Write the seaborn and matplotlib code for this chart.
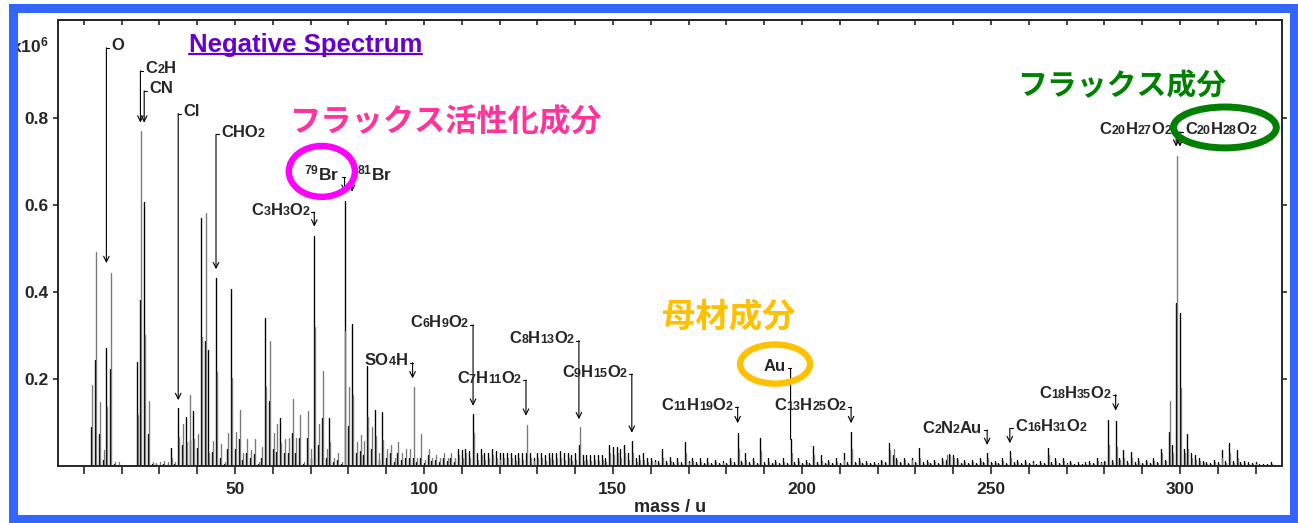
import re
import numpy as np
import pandas as pd
import matplotlib
matplotlib.use("Agg")
import matplotlib.pyplot as plt
import seaborn as sns
from matplotlib.patches import Ellipse, Rectangle
from matplotlib.offsetbox import TextArea, HPacker, AnnotationBbox
from matplotlib.lines import Line2D

sns.set_style("ticks")
plt.rcParams["font.family"] = ["Liberation Sans", "DejaVu Sans"]
plt.rcParams["font.weight"] = "bold"
plt.rcParams["axes.labelweight"] = "bold"
plt.rcParams["mathtext.fontset"] = "custom"
plt.rcParams["mathtext.rm"] = "Liberation Sans:bold"
plt.rcParams["mathtext.bf"] = "Liberation Sans:bold"
plt.rcParams["mathtext.it"] = "Liberation Sans:bold"

# ---- negative-ion spectrum, intensities in units of 1e6 counts, m/z 12..326 ----
masses = np.arange(12, 327)

black_intensity = [
    .090, .244, .074, .015, .273, .223, .005, .004, 0, 0,            # 12-21
    0, .002, .240, .382, .608, .075, .005, .006, .004, .006,         # 22-31
    .004, .042, .005, .133, .048, .113, .060, .127, .043, .570,      # 32-41
    .288, .267, .033, .434, .020, .006, .040, .407, .040, .062,      # 42-51
    .015, .030, .020, .028, .005, .020, .342, .150, .040, .034,      # 52-61
    .112, .030, .030, .076, .030, .065, .005, .064, .020, .529,      # 62-71
    .050, .110, .020, .111, .010, .015, .005, .610, .093, .327,      # 72-81
    .030, .035, .025, .231, .040, .129, .015, .124, .020, .030,      # 82-91
    .010, .030, .015, .020, .020, .020, .010, .020, .008, .025,      # 92-101
    .012, .015, .010, .018, .012, .020, .010, .040, .038, .040,      # 102-111
    .035, .120, .030, .040, .030, .030, .040, .035, .030, .030,      # 112-121
    .030, .030, .025, .030, .030, .030, .030, .020, .030, .030,      # 122-131
    .025, .030, .030, .030, .035, .030, .030, .025, .030, .050,      # 132-141
    .025, .025, .025, .025, .025, .025, .020, .050, .045, .045,      # 142-151
    .040, .050, .030, .059, .020, .025, .030, .020, .020, .015,      # 152-161
    .012, .040, .012, .022, .010, .018, .010, .057, .012, .020,      # 162-171
    .010, .018, .008, .018, .008, .015, .008, .012, .008, .020,      # 172-181
    .010, .077, .012, .030, .010, .020, .008, .066, .010, .020,      # 182-191
    .008, .015, .008, .018, .008, .062, .010, .020, .008, .015,      # 192-201
    .008, .046, .010, .025, .008, .015, .008, .020, .008, .030,      # 202-211
    .010, .080, .010, .020, .008, .012, .008, .010, .008, .014,      # 212-221
    .010, .054, .025, .020, .010, .020, .008, .018, .010, .041,      # 222-231
    .010, .015, .008, .014, .008, .018, .015, .028, .025, .020,      # 232-241
    .008, .015, .008, .015, .008, .020, .010, .030, .010, .012,      # 242-251
    .008, .018, .008, .035, .010, .015, .008, .014, .008, .012,      # 252-261
    .006, .012, .008, .042, .010, .020, .008, .020, .008, .012,      # 262-271
    .006, .010, .006, .010, .012, .008, .020, .010, .012, .106,      # 272-281
    .015, .103, .020, .037, .012, .033, .010, .018, .008, .014,      # 282-291
    .008, .020, .010, .040, .015, .078, .050, .375, .352, .040,      # 292-301
    .075, .030, .025, .020, .012, .010, .008, .014, .010, .038,      # 302-311
    .012, .054, .012, .038, .010, .012, .010, .008, .010, .006,      # 312-321
    .006, .006, .010, .004, .003,                                    # 322-326
]

gray_intensity = [
    .187, .492, .147, .037, .137, .444, .010, .010, 0, 0,            # 12-21
    .003, .004, .118, .771, .302, .151, .010, .008, .010, .012,      # 22-31
    .010, .020, .010, .067, .098, .056, .164, .063, .075, .297,      # 32-41
    .582, .030, .058, .217, .052, .010, .076, .204, .078, .130,      # 42-51
    .030, .063, .038, .062, .010, .045, .183, .288, .077, .098,      # 52-61
    .053, .062, .065, .154, .065, .119, .010, .127, .040, .320,      # 62-71
    .098, .219, .040, .056, .020, .030, .010, .310, .183, .165,      # 72-81
    .055, .072, .058, .114, .090, .070, .030, .060, .040, .050,      # 82-91
    .020, .057, .030, .040, .040, .183, .020, .074, .015, .040,      # 92-101
    .020, .025, .020, .030, .020, .030, .020, .025, .020, .030,      # 102-111
    .020, .077, .015, .025, .015, .020, .025, .020, .015, .020,      # 112-121
    .018, .020, .012, .020, .015, .095, .018, .012, .020, .018,      # 122-131
    .012, .020, .015, .020, .018, .015, .020, .012, .015, .091,      # 132-141
    .012, .015, .012, .015, .012, .015, .010, .030, .025, .030,      # 142-151
    .020, .030, .015, .030, .010, .015, .015, .010, .012, .010,      # 152-161
    .008, .020, .008, .012, .006, .010, .006, .030, .008, .012,      # 162-171
    .006, .010, .005, .010, .005, .010, .005, .008, .005, .012,      # 172-181
    .006, .040, .008, .015, .006, .012, .005, .035, .006, .010,      # 182-191
    .005, .010, .005, .010, .005, .030, .006, .012, .005, .010,      # 192-201
    .005, .025, .006, .012, .005, .010, .005, .010, .005, .015,      # 202-211
    .006, .040, .008, .012, .005, .008, .005, .006, .005, .012,      # 212-221
    .008, .037, .040, .015, .008, .015, .006, .015, .008, .020,      # 222-231
    .006, .010, .005, .010, .006, .012, .025, .025, .020, .015,      # 232-241
    .006, .010, .006, .010, .006, .012, .008, .020, .008, .008,      # 242-251
    .006, .012, .006, .020, .006, .010, .005, .010, .005, .008,      # 252-261
    .004, .008, .005, .025, .006, .012, .005, .012, .005, .008,      # 262-271
    .004, .006, .004, .006, .008, .006, .012, .008, .010, .050,      # 272-281
    .010, .045, .015, .020, .008, .018, .006, .012, .006, .010,      # 282-291
    .006, .012, .008, .030, .012, .149, .030, .713, .180, .030,      # 292-301
    .040, .020, .015, .012, .008, .006, .005, .010, .006, .020,      # 302-311
    .008, .030, .008, .020, .006, .008, .006, .005, .006, .004,      # 312-321
    .004, .004, .005, .003, .002,                                    # 322-326
]

x_ticks = list(range(10, 330, 10))
x_tick_labels = [str(t) if t % 50 == 0 else "" for t in x_ticks]
y_ticks = [0.2, 0.4, 0.6, 0.8]
y_tick_labels = ["0.2", "0.4", "0.6", "0.8"]

# peak assignments: (label, m/z, leader top, arrow tip, side of text)
peak_labels = [
    ("O", 16, 0.962, 0.467, "right"),
    ("C2H", 25, 0.909, 0.790, "right"),
    ("CN", 26, 0.863, 0.790, "right"),
    ("Cl", 35, 0.811, 0.152, "right"),
    ("CHO2", 45, 0.763, 0.453, "right"),
    ("79Br", 79, 0.664, 0.631, "left"),
    ("81Br", 81, 0.664, 0.631, "right"),
    ("C3H3O2", 71, 0.584, 0.551, "left"),
    ("SO4H", 97, 0.238, 0.202, "left"),
    ("C6H9O2", 113, 0.325, 0.139, "left"),
    ("C7H11O2", 127, 0.198, 0.116, "left"),
    ("C8H13O2", 141, 0.289, 0.108, "left"),
    ("C9H15O2", 155, 0.212, 0.077, "left"),
    ("Au", 197, 0.225, None, "left"),
    ("C11H19O2", 183, 0.136, 0.099, "left"),
    ("C13H25O2", 213, 0.136, 0.099, "left"),
    ("C2N2Au", 249, 0.083, 0.049, "left"),
    ("C16H31O2", 255, 0.087, 0.053, "right"),
    ("C18H35O2", 283, 0.164, 0.128, "left"),
    ("C20H27O2", 299, 0.769, 0.735, "left"),
    ("C20H28O2", 300, 0.769, 0.735, "right"),
]

W, H = 1298, 523
fig = plt.figure(figsize=(W / 100, H / 100), dpi=100)
ax = fig.add_axes([58 / W, 1 - 466.3 / H, (1282 - 58) / W, (466.3 - 20) / H])

# stick spectrum: each peak is a 0 -> value -> 0 excursion
rows = []
for trace, values, shift in (("black", black_intensity, 0.0), ("gray", gray_intensity, 0.25)):
    for m, v in zip(masses, values):
        x = m + shift
        rows += [(trace, x, 0.0), (trace, x, v), (trace, x, 0.0)]
spec = pd.DataFrame(rows, columns=["trace", "mass", "intensity"])
sns.lineplot(data=spec, x="mass", y="intensity", hue="trace",
             hue_order=["black", "gray"],
             palette={"black": "#000000", "gray": "#7a7a7a"},
             sort=False, estimator=None, legend=False, linewidth=0.85, ax=ax)

ax.set_xlim(3.2, 327)
ax.set_ylim(0, 1.026)
ax.set_xticks(x_ticks)
ax.set_xticklabels(x_tick_labels)
ax.set_yticks(y_ticks)
ax.set_yticklabels(y_tick_labels)
ax.set_ylabel("")
ax.set_xlabel("mass / u", fontsize=13, labelpad=1)
for side in ("left", "right", "top", "bottom"):
    ax.spines[side].set_visible(True)
    ax.spines[side].set_linewidth(1.4)
ax.tick_params(axis="x", direction="out", length=5.5, width=1.2, labelsize=12.5, pad=6)
ax.tick_params(axis="y", direction="out", length=3.6, width=1.2, labelsize=12.5, pad=3,
               right=True)
top = ax.secondary_xaxis("top")
top.set_xticks(x_ticks)
top.tick_params(direction="in", length=3.6, width=1.2, labeltop=False)
top.spines["top"].set_linewidth(1.4)

fig.text(49 / W, 1 - 45 / H, r"x10$^{6}$", ha="right", va="center", fontsize=12.5)


def formula_box(text):
    if text in ("79Br", "81Br"):
        parts = [TextArea(r"$^{%s}$Br" % text[:2],
                          textprops=dict(fontsize=12.5, fontweight="bold"))]
    else:
        parts = [TextArea(p, textprops=dict(fontsize=9 if p.isdigit() else 12,
                                             fontweight="bold"))
                 for p in re.findall(r"\d+|\D+", text)]
    return HPacker(children=parts, align="baseline", pad=0, sep=0)


for text, m, y_top, y_tip, side in peak_labels:
    sgn = 1 if side == "right" else -1
    hook = 0.8
    if y_tip is None:
        y_tip = black_intensity[int(m - masses[0])]
        style = "-"
    else:
        style = "->,head_length=0.45,head_width=0.22"
    ax.annotate("", xy=(m, y_tip), xytext=(m, y_top),
                arrowprops=dict(arrowstyle=style, lw=0.8, color="black",
                                shrinkA=0, shrinkB=0, mutation_scale=9))
    ax.plot([m, m + sgn * hook], [y_top, y_top], color="black", lw=0.8)
    ab = AnnotationBbox(formula_box(text), (m + sgn * hook, y_top),
                        xybox=(sgn * 1.5, -4.0), boxcoords="offset points",
                        box_alignment=(0 if side == "right" else 1, 0),
                        frameon=False, pad=0, zorder=5)
    ax.add_artist(ab)

# headline and highlighted groups
title = ax.text(37.8, 0.953, "Negative Spectrum", color="#6600CC", fontsize=18.5,
                ha="left", va="baseline")
jp = ["Noto Sans CJK JP", "DejaVu Sans"]
ax.text(64.6, 0.79, "フラックス活性化成分", color="#FF3399", fontsize=22.5,
        family=jp, weight="bold", ha="left", va="center")
ax.text(163.0, 0.344, "母材成分", color="#FFC000", fontsize=24,
        family=jp, weight="bold", ha="left", va="center")
ax.text(256.9, 0.874, "フラックス成分", color="#008000", fontsize=21.5,
        family=jp, weight="bold", ha="left", va="center")

for (cx, cy), w, h, col, lw in (((73.0, 0.678), 17.5, 0.117, "#FF00FF", 4.6),
                                ((192.9, 0.235), 18.5, 0.090, "#FFC000", 4.6),
                                ((311.9, 0.779), 27.2, 0.094, "#008000", 5.0)):
    ax.add_patch(Ellipse((cx, cy), w, h, fill=False, edgecolor=col, lw=lw,
                         zorder=6, clip_on=False))

# underline the headline
renderer = fig.canvas.get_renderer()
bb = title.get_window_extent(renderer)
base_y = ax.transData.transform((37.8, 0.953))[1] - 2.0
fig.add_artist(Line2D([bb.x0 / W, bb.x1 / W], [base_y / H, base_y / H],
                      color="#6600CC", lw=1.6, transform=fig.transFigure))

# outer frame
fig.add_artist(Rectangle((12.5 / W, 4.0 / H), (1293.5 - 12.5) / W, (519 - 8.3) / H,
                         transform=fig.transFigure, fill=False,
                         edgecolor="#3366FF", lw=6.5, zorder=20))

fig.savefig("out.png", dpi=100)
